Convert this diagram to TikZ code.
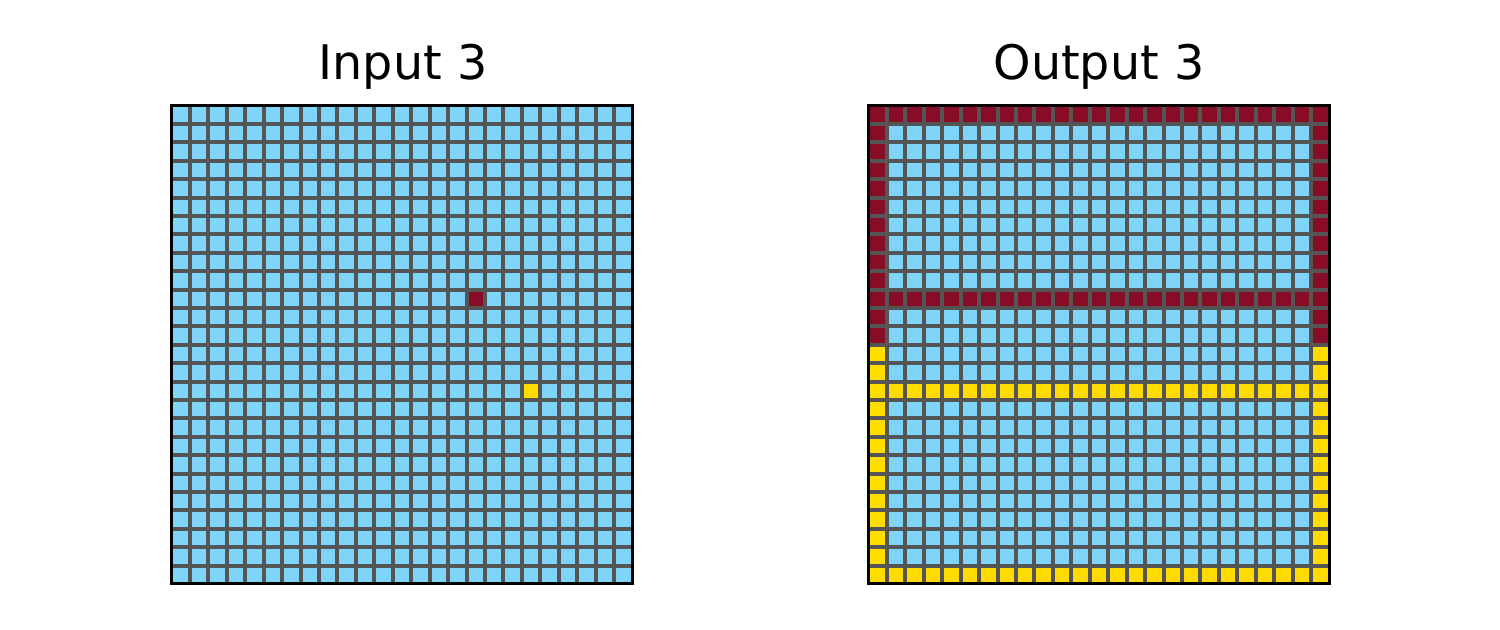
\documentclass[tikz,border=0pt]{standalone}
\usepackage{fontspec}
\setmainfont{DejaVu Sans}
\usetikzlibrary{positioning}
\definecolor{cellblue}{HTML}{7FD4FA}
\definecolor{cellred}{HTML}{870C25}
\definecolor{cellyel}{HTML}{FFDC00}
\definecolor{gridgray}{HTML}{555555}
\begin{document}
\begin{tikzpicture}[x=0.5pt,y=0.5pt,
  ttl/.style={font=\fontsize{23.8}{28}\selectfont,anchor=base,inner sep=0pt},
  gridln/.style={draw=gridgray,line width=2pt},
  frame/.style={draw=black,line width=1.5pt},
  cellunits/.style={x=9.22pt,y=-9.2pt}]
\useasboundingbox (0,0) rectangle (1500,629);
\node[ttl] (intitle) at (403,549.5) {Input 3};
\node[ttl] (outtitle) at (1099,549.5) {Output 3};
% input grid
\begin{scope}[shift={(85.75pt,261.75pt)},cellunits]
  \fill[cellblue] (0,0) rectangle (25,26);
  \fill[cellred] (16,10) rectangle (17,11);
  \fill[cellyel] (19,15) rectangle (20,16);
  \foreach \i in {1,...,24} \draw[gridln] (\i,0) -- (\i,26);
  \foreach \j in {1,...,25} \draw[gridln] (0,\j) -- (25,\j);
  \draw[frame] (0,0) rectangle (25,26);
\end{scope}
% output grid
\begin{scope}[shift={(434.25pt,261.75pt)},cellunits]
  \fill[cellblue] (0,0) rectangle (25,26);
  \fill[cellred] (0,0) rectangle (25,1) (0,10) rectangle (25,11)
    (0,0) rectangle (1,13) (24,0) rectangle (25,13);
  \fill[cellyel] (0,15) rectangle (25,16) (0,25) rectangle (25,26)
    (0,13) rectangle (1,26) (24,13) rectangle (25,26);
  \foreach \i in {1,...,24} \draw[gridln] (\i,0) -- (\i,26);
  \foreach \j in {1,...,25} \draw[gridln] (0,\j) -- (25,\j);
  \draw[frame] (0,0) rectangle (25,26);
\end{scope}
\end{tikzpicture}
\end{document}
